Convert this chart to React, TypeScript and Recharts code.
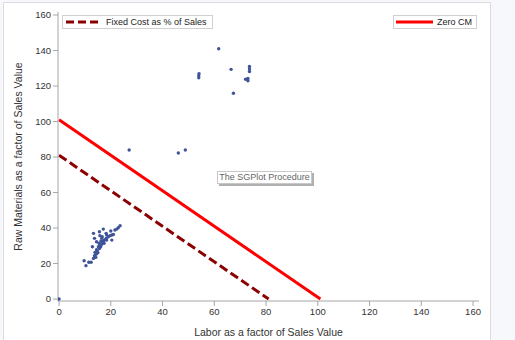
import React from "react";
import {
  ScatterChart,
  Scatter,
  XAxis,
  YAxis,
  ReferenceLine,
} from "recharts";

// plant observations: labor vs raw materials (as factor of sales value)
const laborValues = [
  0, 9.7, 10.4, 11.5, 12.4, 13.3, 13.7, 14.2, 13.9, 14.5, 15.0, 15.2, 15.6, 15.8,
  16.1, 16.5, 16.9, 17.1, 17.4, 17.6, 18.2, 18.4, 19.1, 19.7, 20.4, 21.0, 21.6,
  22.3, 22.9, 23.6, 13.3, 17.1, 15.6, 13.7, 15.8, 14.5, 12.9, 18.2, 20.0, 20.4,
  16.5, 18.4, 14.3, 14.8, 16.2, 16.7, 15.5,
  27.1, 46.1, 48.8, 54.0, 54.0, 54.1, 61.7, 66.5, 67.4, 72.1, 73.0, 73.0, 73.6,
  73.6, 73.6,
];
const rawMaterialValues = [
  0, 21.6, 18.8, 20.7, 20.7, 22.9, 24.4, 23.5, 26.3, 27.8, 26.1, 29.5, 28.5, 30.4,
  29.5, 30.8, 31.9, 32.7, 31.4, 33.2, 34.2, 33.2, 35.1, 35.7, 36.1, 36.4, 38.9,
  39.4, 40.2, 41.3, 37.0, 39.4, 37.9, 34.2, 35.7, 32.3, 29.5, 37.0, 38.3, 33.2,
  34.2, 36.1, 25.2, 27.0, 32.7, 35.1, 31.4,
  84.0, 82.3, 84.0, 124.6, 125.8, 127.0, 141.0, 129.4, 115.9, 123.8, 124.3, 123.0,
  128.2, 129.6, 131.0,
];

// break-even lines (x intercept == y intercept)
const zeroCmIntercept = [101, 101];
const fixedCostIntercept = [81, 81];

const xTicks = [0, 20, 40, 60, 80, 100, 120, 140, 160];
const yTicks = [0, 20, 40, 60, 80, 100, 120, 140, 160];

const points = laborValues.map((x, i) => ({ x, y: rawMaterialValues[i] }));

const axisGray = "#a6a6a6";
const tickStyle = { fill: "#333", fontSize: 9.5, fontFamily: "Liberation Sans, Arial, sans-serif" };

const Dot = (props: any) => {
  const { cx, cy } = props;
  if (cx == null || cy == null) return null;
  return <circle cx={cx} cy={cy} r={1.7} fill="#3f5398" />;
};

const legendBox: React.CSSProperties = {
  position: "absolute",
  top: 15,
  height: 12,
  border: "1px solid #d0d0d0",
  background: "#fff",
  display: "flex",
  alignItems: "center",
  fontSize: 9,
  color: "#222",
  whiteSpace: "nowrap",
  overflow: "hidden",
};

export default function App() {
  return (
    <div
      style={{
        position: "absolute",
        left: 0,
        top: 0,
        width: 515,
        height: 340,
        background: "#f6f8fb",
        fontFamily: "Liberation Sans, Arial, sans-serif",
      }}
    >
      <div
        style={{
          position: "absolute",
          left: 3,
          top: 2,
          width: 486,
          height: 345,
          background: "#fff",
          border: "1px solid #dcdcdc",
        }}
      />
      <div style={{ position: "absolute", left: 0, top: 0 }}>
        <ScatterChart
          width={515}
          height={340}
          margin={{ top: 12, right: 36, bottom: 0, left: 0 }}
        >
          <XAxis
            xAxisId={0}
            type="number"
            dataKey="x"
            domain={[-0.4, 162.3]}
            ticks={xTicks}
            allowDataOverflow
            height={39}
            stroke={axisGray}
            tickSize={5}
            tick={tickStyle}
            label={{
              value: "Labor as a factor of Sales Value",
              position: "insideBottom",
              offset: 4,
              style: { fill: "#333", fontSize: 10.5 },
            }}
          />
          <XAxis
            xAxisId="top"
            orientation="top"
            type="number"
            domain={[-0.4, 162.3]}
            height={0}
            tick={false}
            tickLine={false}
            stroke={axisGray}
          />
          <YAxis
            yAxisId={0}
            type="number"
            dataKey="y"
            domain={[-1.1, 161.7]}
            ticks={yTicks}
            allowDataOverflow
            width={58}
            stroke={axisGray}
            tickSize={5}
            tick={tickStyle}
            label={{
              value: "Raw Materials as a factor of Sales Value",
              angle: -90,
              position: "insideLeft",
              offset: 18,
              style: { textAnchor: "middle", fill: "#333", fontSize: 10.5 },
            }}
          />
          <YAxis
            yAxisId="right"
            orientation="right"
            type="number"
            domain={[-1.1, 161.7]}
            width={0}
            tick={false}
            tickLine={false}
            stroke={axisGray}
          />
          <ReferenceLine
            segment={[
              { x: 0, y: fixedCostIntercept[1] },
              { x: fixedCostIntercept[0], y: 0 },
            ]}
            stroke="#8b0000"
            strokeWidth={3}
            strokeDasharray="9 4"
            ifOverflow="hidden"
          />
          <ReferenceLine
            segment={[
              { x: 0, y: zeroCmIntercept[1] },
              { x: zeroCmIntercept[0], y: 0 },
            ]}
            stroke="#ff0000"
            strokeWidth={3}
            ifOverflow="hidden"
          />
          <Scatter data={points} shape={<Dot />} isAnimationActive={false} />
        </ScatterChart>
      </div>

      {/* legends */}
      <div style={{ ...legendBox, left: 62, width: 149 }}>
        <svg width={38} height={12} style={{ marginLeft: 2, flexShrink: 0 }}>
          <line x1={1} y1={6} x2={34} y2={6} stroke="#8b0000" strokeWidth={3} strokeDasharray="8 4" />
        </svg>
        <span style={{ marginLeft: 3 }}>Fixed Cost as % of Sales</span>
      </div>
      <div style={{ ...legendBox, left: 393, width: 82 }}>
        <svg width={40} height={12} style={{ marginLeft: 1, flexShrink: 0 }}>
          <line x1={1} y1={6} x2={38} y2={6} stroke="#ff0000" strokeWidth={3} />
        </svg>
        <span style={{ marginLeft: 2 }}>Zero CM</span>
      </div>

      {/* watermark note */}
      <div
        style={{
          position: "absolute",
          left: 217,
          top: 171,
          width: 93,
          height: 11,
          border: "1px solid #c8c8c8",
          background: "#fff",
          boxShadow: "2px 2px 0 #b0b0b0",
          fontSize: 9,
          lineHeight: "11px",
          color: "#666",
          textAlign: "center",
          whiteSpace: "nowrap",
        }}
      >
        The SGPlot Procedure
      </div>
    </div>
  );
}
